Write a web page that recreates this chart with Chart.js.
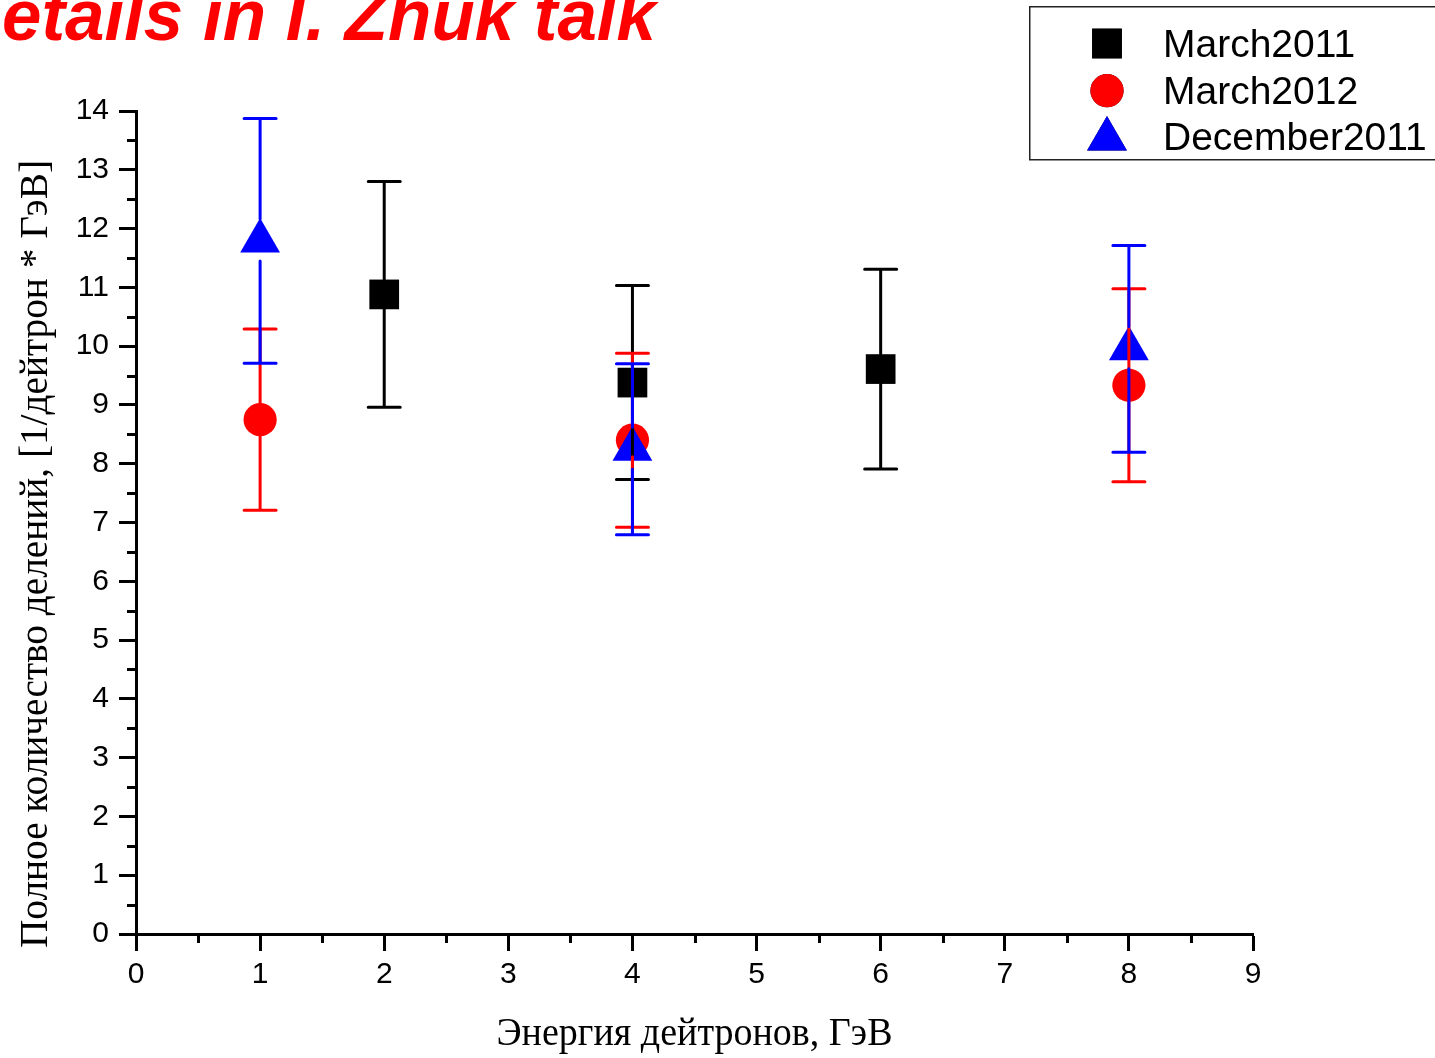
<!DOCTYPE html>
<html><head><meta charset="utf-8">
<script src="https://cdn.jsdelivr.net/npm/chart.js@4.4.0/dist/chart.umd.min.js"></script>
<style>html,body{margin:0;padding:0;background:#fff;overflow:hidden}#wrap{position:relative;width:1435px;height:1058px}</style>
</head><body><div id="wrap"><canvas id="c" width="1435" height="1058"></canvas></div>
<script>
// ---- data ----
const seriesNames = ['March2011', 'March2012', 'December2011'];
const march2011X = [2, 4, 6];
const march2011Y = [10.88, 9.38, 9.61];
const march2011Err = [1.92, 1.65, 1.70];
const march2012X = [1, 4, 8];
const march2012Y = [8.75, 8.40, 9.335];
const march2012Err = [1.54, 1.48, 1.64];
const december2011X = [1, 4, 8];
const december2011Y = [11.79, 8.245, 9.955];
const december2011Err = [2.083, 1.455, 1.758];
const xTickLabels = ['0', '1', '2', '3', '4', '5', '6', '7', '8', '9'];
const yTickLabels = ['0', '1', '2', '3', '4', '5', '6', '7', '8', '9', '10', '11', '12', '13', '14'];
const titleText = 'Details in I. Zhuk talk';
const xAxisTitle = 'Энергия дейтронов, ГэВ';
const yAxisTitle = 'Полное количество делений, [1/дейтрон * ГэВ]';

function pts(xs, ys, es) { return xs.map((x, i) => ({ x: x, y: ys[i], err: es[i] })); }

const errorBars = {
  id: 'errorBars',
  afterDatasetsDraw(chart) {
    const ctx = chart.ctx, xs = chart.scales.x, ys = chart.scales.y;
    chart.data.datasets.forEach((ds) => {
      ctx.save();
      ctx.strokeStyle = ds.backgroundColor; ctx.lineWidth = 3; ctx.lineCap = 'round';
      ds.data.forEach((p) => {
        const px = xs.getPixelForValue(p.x), py = ys.getPixelForValue(p.y);
        const pt = ys.getPixelForValue(p.y + p.err), pb = ys.getPixelForValue(p.y - p.err);
        const g = ds.errGap;
        ctx.beginPath();
        ctx.moveTo(px, pt); ctx.lineTo(px, py - g[0]);
        ctx.moveTo(px, py + g[1]); ctx.lineTo(px, pb);
        ctx.moveTo(px - 16, pt); ctx.lineTo(px + 16, pt);
        ctx.moveTo(px - 16, pb); ctx.lineTo(px + 16, pb);
        ctx.stroke();
      });
      ctx.restore();
    });
  }
};

const minorTicks = {
  id: 'minorTicks',
  afterDraw(chart) {
    const ctx = chart.ctx, xs = chart.scales.x, ys = chart.scales.y, a = chart.chartArea;
    ctx.save(); ctx.strokeStyle = '#000'; ctx.lineWidth = 3;
    ctx.beginPath();
    for (let i = 0; i < yTickLabels.length - 1; i++) {
      const py = Math.round(ys.getPixelForValue(i + 0.5)) + 0.5;
      ctx.moveTo(a.left - 9, py); ctx.lineTo(a.left, py);
    }
    for (let i = 0; i < xTickLabels.length - 1; i++) {
      const px = Math.round(xs.getPixelForValue(i + 0.5)) + 0.5;
      ctx.moveTo(px, a.bottom); ctx.lineTo(px, a.bottom + 9);
    }
    ctx.stroke(); ctx.restore();
  }
};

const decor = {
  id: 'decor',
  afterDraw(chart) {
    const ctx = chart.ctx, a = chart.chartArea;
    // title
    ctx.save();
    ctx.font = 'italic bold 64px "Liberation Sans"';
    const wD = ctx.measureText('D').width, wAll = ctx.measureText(titleText).width;
    const sx = 654 / (wAll - wD);
    ctx.fillStyle = '#ff0000'; ctx.textBaseline = 'alphabetic';
    ctx.translate(-wD * sx + 2, 40); ctx.scale(sx, 1.12);
    ctx.fillText(titleText, 0, 0);
    ctx.restore();
    // x axis title
    ctx.save();
    ctx.font = '36px "Liberation Serif"';
    let w = ctx.measureText(xAxisTitle).width;
    ctx.fillStyle = '#000'; ctx.textAlign = 'center'; ctx.textBaseline = 'alphabetic';
    ctx.translate((a.left + a.right) / 2, 1045); ctx.scale(396 / w, 1.1);
    ctx.fillText(xAxisTitle, 0, 0);
    ctx.restore();
    // y axis title
    ctx.save();
    ctx.font = '38px "Liberation Serif"';
    w = ctx.measureText(yAxisTitle).width;
    ctx.fillStyle = '#000'; ctx.textAlign = 'center'; ctx.textBaseline = 'alphabetic';
    ctx.translate(47, 554); ctx.rotate(-Math.PI / 2); ctx.scale(788 / w, 1.05);
    ctx.fillText(yAxisTitle, 0, 0);
    ctx.restore();
    // legend
    ctx.save();
    ctx.strokeStyle = '#222'; ctx.lineWidth = 1.5;
    ctx.strokeRect(1029.75, 6.75, 430, 153);
    const rowsMid = [43.5, 90.7, 139];
    const rowsBase = [57, 103.5, 150];
    chart.data.datasets.forEach((ds, i) => {
      Chart.helpers.drawPoint(ctx, { pointStyle: ds.pointStyle, radius: ds.pointRadius, rotation: 0, borderWidth: 0 }, 1107, rowsMid[i]);
      ctx.fillStyle = ds.backgroundColor;
      ctx.fill();
      ctx.fillStyle = '#000'; ctx.font = '39px "Liberation Sans"'; ctx.textBaseline = 'alphabetic';
      ctx.fillText(ds.label, 1163, rowsBase[i]);
    });
    ctx.restore();
  }
};

const axisCommon = {
  type: 'linear',
  grid: { drawOnChartArea: false, drawTicks: true, tickLength: 17, tickWidth: 3, tickColor: '#000' },
  border: { display: true, color: '#000', width: 3 },
};

new Chart(document.getElementById('c'), {
  type: 'scatter',
  data: {
    datasets: [
      { label: seriesNames[0], data: pts(march2011X, march2011Y, march2011Err), backgroundColor: '#000000', pointStyle: 'rect', pointRadius: 21, pointBorderWidth: 0, errGap: [15, 15], order: 3 },
      { label: seriesNames[1], data: pts(march2012X, march2012Y, march2012Err), backgroundColor: '#ff0000', pointStyle: 'circle', pointRadius: 16.6, pointBorderWidth: 0, errGap: [16.6, 16.6], order: 2 },
      { label: seriesNames[2], data: pts(december2011X, december2011Y, december2011Err), backgroundColor: '#0000ff', pointStyle: 'triangle', pointRadius: 23, pointBorderWidth: 0, errGap: [22, 20], order: 1 },
    ]
  },
  options: {
    responsive: false, animation: false, devicePixelRatio: 1,
    layout: { padding: { top: 111, right: 182, left: 0, bottom: 0 } },
    plugins: { legend: { display: false }, tooltip: { enabled: false } },
    scales: {
      x: Object.assign({}, axisCommon, {
        min: 0, max: 9,
        ticks: { stepSize: 1, color: '#000', font: { family: 'Liberation Sans', size: 30 }, padding: 6, maxRotation: 0,
          callback: (v) => xTickLabels[v] },
        afterFit: (s) => { s.height = 124; }
      }),
      y: Object.assign({}, axisCommon, {
        min: 0, max: 14,
        ticks: { stepSize: 1, color: '#000', font: { family: 'Liberation Sans', size: 30 }, padding: 10,
          callback: (v) => yTickLabels[v] },
        afterFit: (s) => { s.width = 136; }
      })
    }
  },
  plugins: [errorBars, minorTicks, decor]
});
</script></body></html>
